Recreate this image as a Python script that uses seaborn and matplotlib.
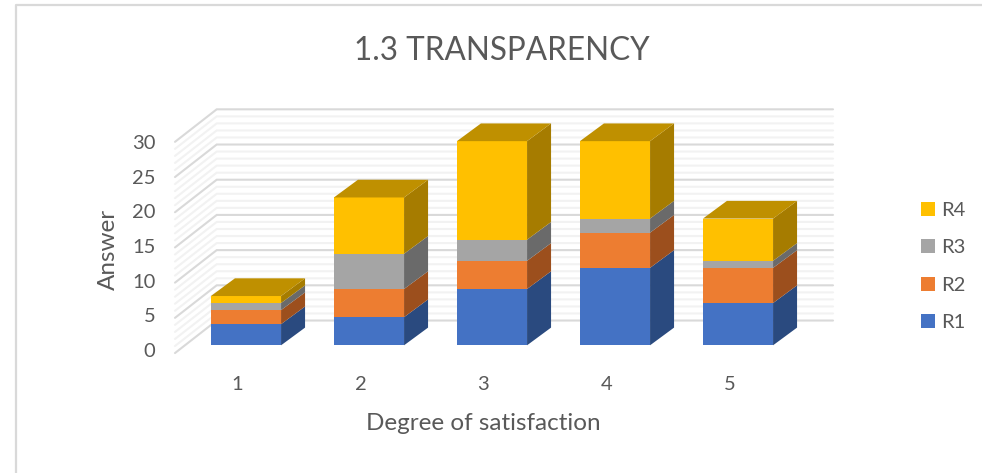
import matplotlib
matplotlib.use("Agg")
import matplotlib.pyplot as plt
import pandas as pd
import seaborn as sns
from matplotlib.lines import Line2D
from matplotlib.patches import Polygon

# values
degrees = ["1", "2", "3", "4", "5"]
r1 = [3, 4, 8, 11, 6]
r2 = [2, 4, 4, 5, 5]
r3 = [1, 5, 3, 2, 1]
r4 = [1, 8, 14, 11, 6]
series_names = ["R1", "R2", "R3", "R4"]
y_ticks = [0, 5, 10, 15, 20, 25, 30]

front_colors = ["#4472C4", "#ED7D31", "#A5A5A5", "#FFC000"]
side_colors = ["#2A4A7F", "#9C4F1D", "#6A6A6A", "#A67C00"]
top_color = "#BF9000"
text_color = "#595959"

W, H = 982, 473
base_px = 345.3
unit_px = 7.04
left_px = 184.5
y_min = -1.5  # room below 0 so the shifted tick labels stay in view
bottom_px = base_px - y_min * unit_px
height_px = (30 - y_min) * unit_px

sns.set_theme(style="white")
plt.rcParams["font.family"] = ["Lato", "DejaVu Sans"]

df = pd.DataFrame({"degree": degrees, "R1": r1, "R2": r2, "R3": r3, "R4": r4})

fig = plt.figure(figsize=(W / 100, H / 100), dpi=100, facecolor="white")
ax = fig.add_axes([left_px / W, (H - bottom_px) / H, 615 / W, height_px / H])

# stacked front faces
bottom = pd.Series(0, index=df.index)
for name, color in zip(series_names, front_colors):
    sns.barplot(data=df, x="degree", y=name, bottom=bottom, color=color,
                saturation=1, width=0.57, label=name, ax=ax, zorder=3, linewidth=0)
    bottom = bottom + df[name]

handles, labels = ax.get_legend_handles_labels()

# depth of the bars, in data units
bar_dx = 24 / 123
bar_dy = 17.7 / unit_px
n_cat = len(degrees)
for s, name in enumerate(series_names):
    container = ax.containers[s]
    for bar in container:
        x0 = bar.get_x()
        x1 = x0 + bar.get_width()
        y0 = bar.get_y()
        y1 = y0 + bar.get_height()
        ax.add_patch(Polygon([(x1, y0), (x1 + bar_dx, y0 + bar_dy),
                              (x1 + bar_dx, y1 + bar_dy), (x1, y1)],
                             closed=True, fc=side_colors[s], ec="none", zorder=3,
                             clip_on=False))
        if s == len(series_names) - 1:
            ax.add_patch(Polygon([(x0, y1), (x0 + bar_dx, y1 + bar_dy),
                                  (x1 + bar_dx, y1 + bar_dy), (x1, y1)],
                                 closed=True, fc=top_color, ec="none", zorder=3,
                                 clip_on=False))

# back wall and side wall grid
x_front = (175 - 246) / 123
x_back = (216.7 - 246) / 123
x_right = (833 - 246) / 123
for v in range(0, 31):
    major = v % 5 == 0
    c = "#D9D9D9" if major else "#F2F2F2"
    z = 1 if major else 0
    ax.plot([x_front, x_back, x_right], [v - 1.1, v + 3.52, v + 3.52], color=c, lw=1.5,
            clip_on=False, zorder=z, solid_joinstyle="miter")

sns.despine(ax=ax, left=True, bottom=True)
ax.patch.set_alpha(0)

ax.set_xticks([i - 0.07 for i in range(n_cat)], labels=degrees)
ax.set_yticks([v * 0.985 - 0.667 for v in y_ticks], labels=[str(v) for v in y_ticks])
# set_yticks can widen the view, so the limits come after it
ax.set_xlim(-0.5, n_cat - 0.5)
ax.set_ylim(y_min, 30)
ax.tick_params(axis="x", length=0, pad=14.8, labelsize=14.5, labelcolor=text_color)
ax.tick_params(axis="y", length=0, pad=21, labelsize=14.5, labelcolor=text_color)

ax.set_xlabel("Degree of satisfaction", fontsize=17.5, color=text_color, va="center")
ax.xaxis.set_label_coords((483 - left_px) / 615, (bottom_px - 423) / height_px)
ax.set_ylabel("Answer", fontsize=17.5, color=text_color, va="center")
ax.yaxis.set_label_coords((108.5 - left_px) / 615, (bottom_px - 249) / height_px)

fig.text(502 / W, 1 - 51 / H, "1.3 TRANSPARENCY", fontsize=22.7, color=text_color,
         ha="center", va="center")

ax.legend(handles[::-1], labels[::-1], loc="center left",
          bbox_to_anchor=(921 / W, 1 - 266.5 / H), bbox_transform=fig.transFigure,
          frameon=False, fontsize=14.5, labelcolor=text_color, handlelength=0.7,
          handleheight=0.7, handletextpad=0.3, labelspacing=1.01, borderpad=0,
          borderaxespad=0)

# outer chart frame, only partly visible in the crop
fig.add_artist(Line2D([15.5 / W, 15.5 / W, 1], [0, 1 - 5 / H, 1 - 5 / H], color="#D9D9D9",
                      lw=1.6, transform=fig.transFigure))

fig.savefig("out.png", dpi=100, facecolor="white")
